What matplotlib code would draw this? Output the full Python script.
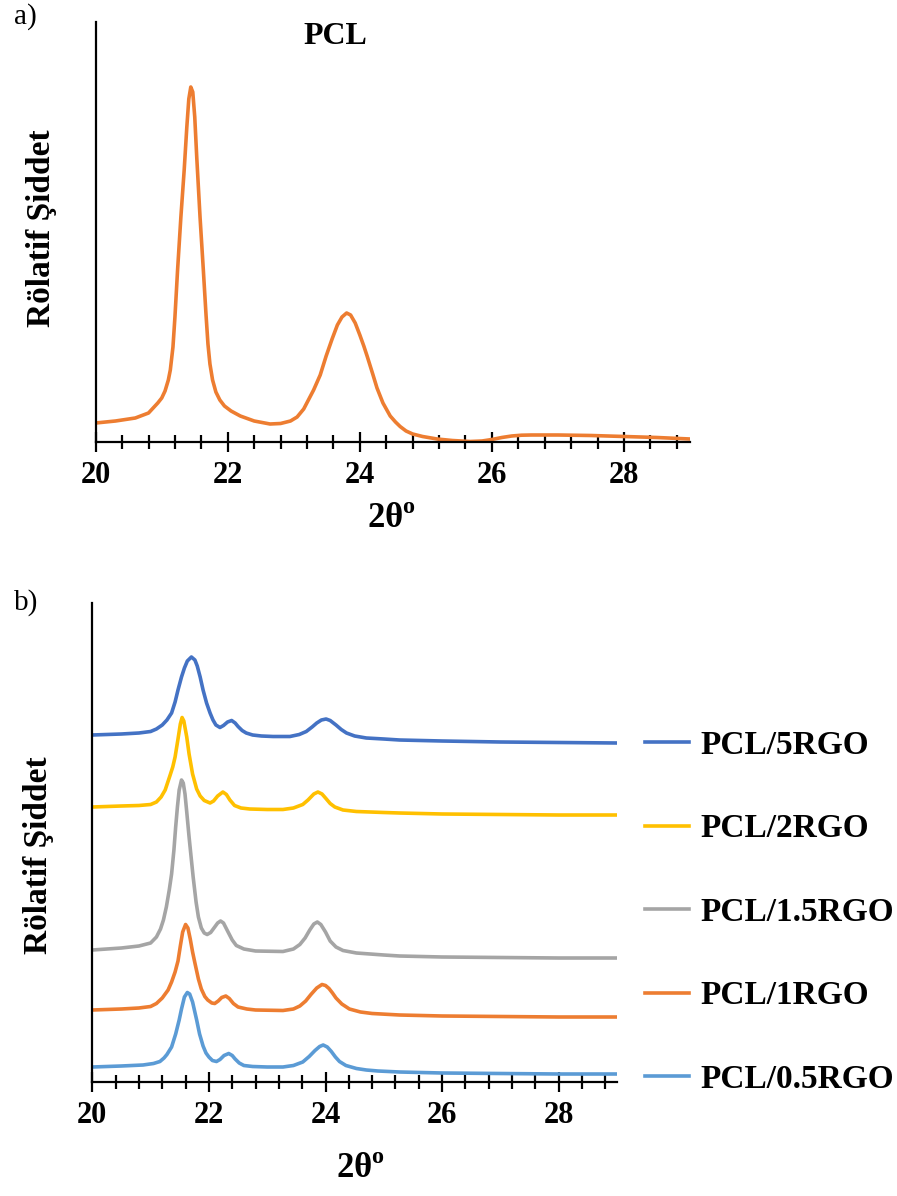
import matplotlib
matplotlib.use('Agg')
import matplotlib.pyplot as plt
from matplotlib.ticker import MultipleLocator

plt.rcParams['font.family'] = ['Liberation Serif', 'DejaVu Serif']
plt.rcParams['mathtext.fontset'] = 'custom'
plt.rcParams['mathtext.rm'] = 'Liberation Serif'
plt.rcParams['mathtext.bf'] = 'Liberation Serif:bold'

# a) neat PCL pattern (2theta, relative intensity)
pcl_x = [20.0, 20.3, 20.6, 20.8, 20.94, 21.0, 21.05, 21.1, 21.13, 21.17, 21.2, 21.24,
         21.29, 21.34, 21.38, 21.41, 21.44, 21.47, 21.5, 21.53, 21.58, 21.63, 21.67,
         21.7, 21.73, 21.77, 21.82, 21.88, 21.95, 22.05, 22.19, 22.4, 22.64, 22.8,
         22.95, 23.05, 23.15, 23.3, 23.4, 23.49, 23.58, 23.66, 23.73, 23.8, 23.86,
         23.93, 24.0, 24.06, 24.11, 24.2, 24.26, 24.35, 24.46, 24.54, 24.61, 24.7,
         24.8, 24.95, 25.17, 25.4, 25.67, 25.85, 26.0, 26.15, 26.3, 26.45, 26.6,
         27.0, 27.5, 28.0, 28.5, 29.0]
pcl_y = [19, 21, 24, 29, 39, 44, 51, 62, 72, 95, 125, 172,
         225, 272, 315, 343, 355, 350, 325, 285, 225, 172, 128,
         98, 78, 62, 50, 42, 36, 31, 26, 21, 18, 18.5,
         21, 25, 33, 52, 67, 86, 103, 117, 125, 129, 127,
         119, 107, 96, 86, 67, 54, 39, 26, 20, 15.5, 11,
         8, 5.5, 3, 1.5, 0.5, 1, 2.5, 4.5, 6, 6.8, 7,
         7, 6.5, 5.5, 4.5, 3]

# b) PCL/RGO composites, stacked
rgo5_x = [20.0, 20.5, 20.8, 21.0, 21.1, 21.2, 21.28, 21.36, 21.42, 21.47, 21.53, 21.58,
          21.63, 21.7, 21.76, 21.8, 21.85, 21.9, 21.96, 22.02, 22.07, 22.12, 22.19,
          22.25, 22.32, 22.39, 22.45, 22.5, 22.57, 22.64, 22.75, 22.9, 23.1, 23.39,
          23.55, 23.67, 23.77, 23.85, 23.93, 24.01, 24.08, 24.18, 24.27, 24.36, 24.5,
          24.7, 25.0, 25.27, 26.0, 27.0, 28.0, 29.0]
rgo5_y = [347, 348, 349, 350.5, 353, 357, 362, 369, 380, 392, 405, 414,
          421, 425, 422, 416, 405, 392, 379, 369, 362, 357, 354.5,
          356.5, 360, 361.5, 359, 355.5, 351.5, 349, 347, 346, 345.5, 345.5,
          347.5, 350.5, 355, 359, 362, 363, 361.5, 357, 352.5, 349, 346,
          344, 343, 342, 341, 340, 339.5, 339]

rgo2_x = [20.0, 20.5, 20.8, 21.0, 21.1, 21.18, 21.25, 21.33, 21.38, 21.42, 21.47,
          21.51, 21.54, 21.57, 21.62, 21.66, 21.72, 21.79, 21.85, 21.92, 22.02, 22.08,
          22.15, 22.24, 22.3, 22.36, 22.44, 22.55, 22.7, 23.0, 23.27, 23.45, 23.61,
          23.7, 23.8, 23.87, 23.94, 24.0, 24.08, 24.16, 24.3, 24.53, 25.0, 25.27,
          26.0, 27.0, 28.0, 29.0]
rgo2_y = [275, 276, 276.5, 277.5, 280, 285, 292, 306, 315, 325, 343,
          358, 364.5, 361, 345, 328, 308, 293, 286, 281.5, 279, 281,
          286, 290, 287.5, 282, 276.5, 274, 273, 272.5, 272.5, 274, 277.5,
          282, 288, 290, 288, 284, 278.5, 275, 272, 270.5, 269.5, 269,
          268, 267.5, 267, 267]

rgo15_x = [20.0, 20.5, 20.8, 21.0, 21.1, 21.17, 21.22, 21.27, 21.32, 21.36, 21.4,
           21.43, 21.46, 21.49, 21.53, 21.56, 21.59, 21.62, 21.66, 21.7, 21.73, 21.78,
           21.82, 21.87, 21.92, 21.97, 22.03, 22.1, 22.15, 22.2, 22.25, 22.32, 22.4,
           22.47, 22.6, 22.8, 23.27, 23.45, 23.56, 23.65, 23.73, 23.8, 23.86, 23.92,
           24.0, 24.08, 24.18, 24.3, 24.53, 25.0, 25.27, 26.0, 27.0, 28.0, 29.0]
rgo15_y = [132, 134, 136, 139, 145, 153, 162, 175, 192, 208, 232,
           255, 275, 292, 302, 299, 288, 270, 245, 222, 205, 180,
           165, 154, 149, 147.5, 149.5, 155, 159, 161, 159, 151, 142,
           136.5, 133, 131, 130.5, 133, 137.5, 144, 152, 158, 160, 157.5,
           150, 141, 135, 131.5, 129, 127, 126, 125, 124.5, 124, 124]

rgo1_x = [20.0, 20.5, 20.8, 21.0, 21.1, 21.2, 21.3, 21.36, 21.42, 21.47, 21.51,
          21.55, 21.6, 21.64, 21.68, 21.72, 21.76, 21.82, 21.87, 21.93, 21.98, 22.05,
          22.1, 22.16, 22.22, 22.29, 22.35, 22.42, 22.5, 22.65, 22.8, 23.27, 23.45,
          23.56, 23.66, 23.75, 23.85, 23.94, 24.0, 24.06, 24.12, 24.18, 24.28, 24.41,
          24.6, 24.8, 25.27, 26.0, 27.0, 28.0, 29.0]
rgo1_y = [72, 73, 74, 75.5, 78.5, 84, 92, 100, 110, 121, 136,
          150, 157.5, 154, 143, 130, 119, 103, 93, 85.5, 82, 79,
          78.5, 81, 84.5, 86, 83.5, 78.5, 75, 73, 72, 71.5, 73,
          76, 81, 87.5, 94, 97.5, 96.5, 93.5, 89, 84, 78, 73,
          70, 68.5, 67, 66, 65.5, 65, 65]

rgo05_x = [20.0, 20.5, 20.87, 21.05, 21.16, 21.23, 21.28, 21.36, 21.43, 21.49, 21.53,
           21.58, 21.63, 21.67, 21.72, 21.79, 21.84, 21.9, 21.95, 22.0, 22.06, 22.13,
           22.19, 22.26, 22.34, 22.4, 22.45, 22.52, 22.6, 22.75, 23.0, 23.27, 23.45,
           23.61, 23.72, 23.82, 23.9, 23.96, 24.03, 24.1, 24.17, 24.24, 24.35, 24.53,
           24.7, 24.9, 25.27, 26.0, 27.0, 28.0, 29.0]
rgo05_y = [15, 16, 17, 18.5, 20.5, 24, 27.5, 35, 48, 62, 73,
           85, 89.5, 88, 80, 62, 48, 36, 29, 25, 21.5, 20.5,
           22.5, 26.5, 28.5, 26.5, 23, 19, 16.5, 15.5, 15, 15, 16.5,
           20, 25.5, 31.5, 35.5, 37, 35, 30.5, 25, 20.5, 16.5, 13.5,
           12, 11, 10, 9, 8.5, 8, 8]

series_labels = ['PCL/5RGO', 'PCL/2RGO', 'PCL/1.5RGO', 'PCL/1RGO', 'PCL/0.5RGO']
series_x = [rgo5_x, rgo2_x, rgo15_x, rgo1_x, rgo05_x]
series_y = [rgo5_y, rgo2_y, rgo15_y, rgo1_y, rgo05_y]
series_colors = ['#4472C4', '#FFC000', '#A5A5A5', '#ED7D31', '#5B9BD5']

W, H = 897, 1196


def fx(x):
    return x / W


def fy(y):
    return 1 - y / H


def style_axis(ax, ymax):
    """Excel-like axis: only left/bottom spines, crossing ticks, no y ticks."""
    for side in ('top', 'right'):
        ax.spines[side].set_visible(False)
    for side in ('left', 'bottom'):
        ax.spines[side].set_linewidth(1.6)
    ax.set_xlim(20, 29)
    ax.set_ylim(0, ymax)
    ax.xaxis.set_major_locator(MultipleLocator(2))
    ax.xaxis.set_minor_locator(MultipleLocator(0.4))
    ax.tick_params(axis='x', which='major', direction='inout', length=15,
                   width=1.6, pad=6, labelsize=22)
    ax.tick_params(axis='x', which='minor', direction='inout', length=10, width=1.6)
    ax.set_yticks([])
    for lbl in ax.get_xticklabels():
        lbl.set_fontweight('bold')


fig = plt.figure(figsize=(W / 100, H / 100), dpi=100)

# panel a
ax_a = fig.add_axes([fx(95.7), fy(442), (690 - 95.7) / W, 420 / H])
ax_a.plot(pcl_x, pcl_y, color='#ED7D31', lw=2.6,
          solid_joinstyle='round', solid_capstyle='round')
style_axis(ax_a, 420)

# panel b
ax_b = fig.add_axes([fx(92.3), fy(1082), (617 - 92.3) / W, 479 / H])
handles = []
for xs, ys, c, lab in zip(series_x, series_y, series_colors, series_labels):
    h, = ax_b.plot(xs, ys, color=c, lw=2.6, solid_joinstyle='round', label=lab)
    handles.append(h)
style_axis(ax_b, 479)

fig.legend(handles=handles, loc='upper left', bbox_to_anchor=(fx(645), fy(729.5)),
           frameon=False, borderpad=0, borderaxespad=0, handlelength=1.32,
           handletextpad=0.33, labelspacing=1.58,
           prop={'size': 24, 'weight': 'bold'})

# labels
fig.text(fx(25), fy(17), 'a)', fontsize=21, ha='center', va='center')
fig.text(fx(26), fy(603), 'b)', fontsize=21, ha='center', va='center')
fig.text(fx(335), fy(36), 'PCL', fontsize=23, fontweight='bold', ha='center', va='center')

ylab = 'Rölatif Şiddet'
fig.text(fx(42), fy(228), ylab, fontsize=24, fontweight='bold', rotation=90,
         ha='center', va='center')
fig.text(fx(39), fy(855), ylab, fontsize=24, fontweight='bold', rotation=90,
         ha='center', va='center')

xlab = r'2θ$^{\mathbf{o}}$'
fig.text(fx(391), fy(519), xlab, fontsize=25, fontweight='bold', ha='center', va='center')
fig.text(fx(360), fy(1170), xlab, fontsize=25, fontweight='bold', ha='center', va='center')

fig.savefig('out.png', dpi=100)
